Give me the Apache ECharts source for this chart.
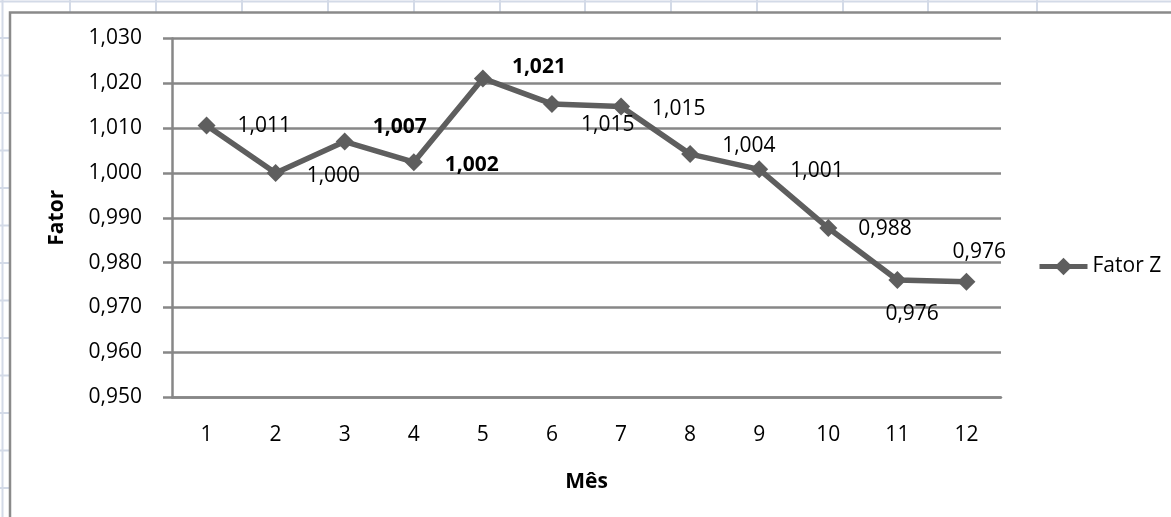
<!DOCTYPE html>
<html>
<head>
<meta charset="utf-8">
<style>
  html, body { margin: 0; padding: 0; background: #ffffff; }
  #chart { width: 1171px; height: 517px; }
</style>
<script src="https://cdn.jsdelivr.net/npm/echarts@6/dist/echarts.min.js"></script>
</head>
<body>
<div id="chart"></div>
<script>
// Fator Z por mês
const months = ['1', '2', '3', '4', '5', '6', '7', '8', '9', '10', '11', '12'];
const fatorZ = [1.0106, 1.0000, 1.0070, 1.0024, 1.0211, 1.0154, 1.0148, 1.0042, 1.0008, 0.9877, 0.9761, 0.9757];
const boldLabels = [false, false, true, true, true, false, false, false, false, false, false, false];
const yTicks = { min: 0.95, max: 1.03, step: 0.01 };

// Hand-placed data label offsets (px), relative to the right side of each marker
const labelOffsets = [[17, 1], [17, 3], [14, -15], [17, 3], [15, -11], [15, 21],
                      [17, 2], [18, -8], [17, 2], [16, 1], [-26, 34], [-28, -30]];

const FONT = '"Open Sans", "Noto Sans", sans-serif';
const FS = 21;
const fmt = v => v.toFixed(3).replace('.', ',');

// Worksheet cell grid peeking out around the chart frame
const sheetColor = '#d3dae7';
const colEdges = [70, 156, 242, 328, 414, 500, 585, 671, 757, 843, 928, 1037];
const rowEdges = [38, 75.5, 113, 150.5, 188, 225.5, 263, 300.5, 338, 375.5, 413, 450.5, 488];
const sheet = [];
sheet.push({ type: 'line', shape: { x1: 0, y1: 1.5, x2: 1171, y2: 1.5 }, style: { stroke: sheetColor, lineWidth: 2 } });
sheet.push({ type: 'line', shape: { x1: 2.5, y1: 0, x2: 2.5, y2: 517 }, style: { stroke: sheetColor, lineWidth: 2 } });
colEdges.forEach(x => sheet.push({ type: 'line', shape: { x1: x, y1: 0, x2: x, y2: 12 }, style: { stroke: sheetColor, lineWidth: 2 } }));
rowEdges.forEach(y => sheet.push({ type: 'line', shape: { x1: 0, y1: y, x2: 10, y2: y }, style: { stroke: sheetColor, lineWidth: 2 } }));
// chart frame
sheet.push({ type: 'rect', shape: { x: 10, y: 12.5, width: 1170, height: 520 }, style: { fill: '#ffffff', stroke: '#8a8a8a', lineWidth: 2.5 }, z: -1 });

const chart = echarts.init(document.getElementById('chart'), null, { renderer: 'canvas' });
chart.setOption({
  animation: false,
  textStyle: { fontFamily: FONT },
  graphic: sheet.map(g => Object.assign({ silent: true, z: g.z !== undefined ? g.z : -2 }, g)),
  grid: { left: 172, right: 170, top: 38.5, bottom: 120, containLabel: false },
  legend: {
    left: 1037, top: 256,
    padding: 0,
    itemWidth: 48, itemHeight: 22,
    lineStyle: { width: 5 },
    textStyle: { fontFamily: FONT, fontSize: FS, color: '#000' },
    data: ['Fator Z']
  },
  xAxis: {
    type: 'category',
    data: months,
    boundaryGap: true,
    name: 'Mês',
    nameLocation: 'middle',
    nameGap: 75,
    nameTextStyle: { fontFamily: FONT, fontSize: FS, fontWeight: 'bold', color: '#000' },
    axisLine: { lineStyle: { color: '#878787', width: 2.5 } },
    axisTick: { show: false },
    axisLabel: { margin: 28, fontFamily: FONT, fontSize: FS, color: '#000' }
  },
  yAxis: {
    type: 'value',
    min: yTicks.min, max: yTicks.max, interval: yTicks.step,
    name: 'Fator',
    nameLocation: 'middle',
    nameGap: 104,
    nameTextStyle: { fontFamily: FONT, fontSize: FS, fontWeight: 'bold', color: '#000' },
    axisLine: { show: true, lineStyle: { color: '#878787', width: 2.5 } },
    axisTick: { show: true, length: 9, lineStyle: { color: '#878787', width: 2.5 } },
    splitLine: { lineStyle: { color: '#878787', width: 2.5 } },
    axisLabel: { margin: 30, fontFamily: FONT, fontSize: FS, color: '#000', formatter: fmt }
  },
  series: [{
    name: 'Fator Z',
    type: 'line',
    symbol: 'diamond',
    symbolSize: 18,
    itemStyle: { color: '#5e5e5e' },
    lineStyle: { color: '#5e5e5e', width: 5.5 },
    data: fatorZ.map((v, i) => ({
      value: v,
      label: {
        show: true,
        position: 'right',
        distance: 5,
        offset: labelOffsets[i],
        fontFamily: FONT,
        fontSize: FS,
        fontWeight: boldLabels[i] ? 'bold' : 'normal',
        color: '#000',
        formatter: p => fmt(p.value)
      }
    }))
  }]
});
</script>
</body>
</html>
